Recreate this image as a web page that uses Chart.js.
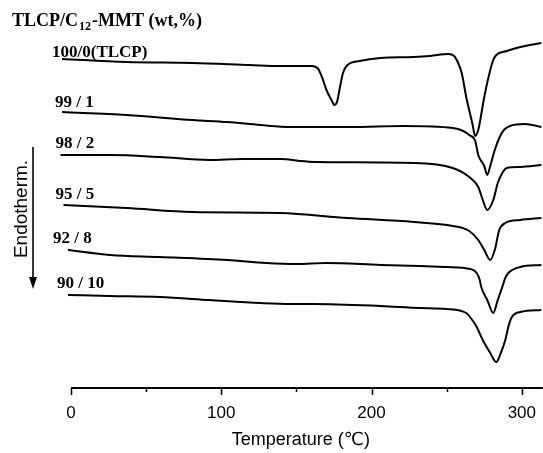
<!DOCTYPE html>
<html>
<head>
<meta charset="utf-8">
<script src="https://cdn.jsdelivr.net/npm/chart.js@4"></script>
<style>
  body { margin: 0; background: #fff; }
  #wrap { width: 543px; height: 453px; }
</style>
</head>
<body>
<div id="wrap"><canvas id="dsc"></canvas></div>
<script>
// DSC heating curves, temperature (°C) vs heat flow (arbitrary units, curves stacked)
const curveLabels = ['100/0(TLCP)', '99 / 1', '98 / 2', '95 / 5', '92 / 8', '90 / 10'];
const tickValues = [0, 50, 100, 150, 200, 250, 300];

const temp100 = [-6, 37, 81, 119, 139, 160, 164, 167, 170, 174, 175, 177, 179, 181, 184, 192, 206, 228, 239, 251, 255, 257, 260, 263, 267, 269, 271, 272, 275, 279, 281, 283, 290, 299, 313];
const heat100 = [329, 326, 325, 323, 322, 322, 320, 311, 298, 286, 283, 286, 301, 315, 323, 327, 330, 331, 332, 334, 332, 327, 315, 291, 265, 252, 258, 265, 291, 318, 328, 333, 337, 341, 345];

const temp99 = [-6, 37, 81, 104, 126, 146, 186, 221, 254, 261, 265, 269, 271, 275, 277, 279, 282, 285, 288, 292, 302, 313];
const heat99 = [276, 273, 268, 266, 263, 261, 261, 262, 260, 257, 253, 247, 233, 222, 213, 222, 238, 250, 258, 262, 264, 261];

const temp98 = [-7, 26, 59, 92, 114, 140, 152, 162, 228, 254, 265, 271, 274, 277, 281, 284, 287, 290, 299, 313];
const heat98 = [233, 233, 231, 228, 229, 229, 227, 226, 225, 220, 211, 201, 188, 178, 188, 205, 215, 220, 221, 223];

const temp95 = [-5, 37, 81, 139, 184, 228, 254, 265, 271, 275, 279, 282, 285, 289, 299, 313];
const heat95 = [183, 180, 176, 175, 170, 166, 162, 157, 148, 138, 128, 138, 158, 165, 168, 170];

const temp92 = [-2, 26, 59, 104, 130, 150, 170, 206, 232, 250, 266, 270, 272, 273, 277, 281, 284, 287, 289, 291, 299, 313];
const heat92 = [138, 133, 131, 128, 125, 124, 125, 123, 122, 121, 119, 115, 108, 101, 88, 75, 88, 101, 110, 115, 121, 123];

const temp90 = [-2, 26, 59, 92, 126, 146, 161, 206, 232, 250, 263, 267, 270, 274, 279, 283, 286, 289, 291, 293, 299, 313];
const heat90 = [93, 92, 91, 88, 85, 84, 84, 82, 80, 79, 75, 68, 61, 48, 35, 26, 35, 48, 61, 70, 76, 78];

const temps = [temp100, temp99, temp98, temp95, temp92, temp90];
const heats = [heat100, heat99, heat98, heat95, heat92, heat90];

const serifBold = "bold 17px 'Liberation Serif', 'Times New Roman', serif";
const sans = "'Liberation Sans', 'DejaVu Sans', Arial, sans-serif";

// label offsets from the first point of each curve (px)
const labelOffsets = [[-10, -2], [-7, -5], [-5, -7], [-8, -6], [-15, -7], [-11, -7]];

const decorations = {
    id: 'decorations',
    afterDraw(chart) {
        const ctx = chart.ctx;
        const xs = chart.scales.x, ys = chart.scales.y;
        const area = chart.chartArea;
        ctx.save();
        ctx.fillStyle = '#000';
        ctx.strokeStyle = '#000';

        // x axis line starting at 0, ticks pointing down
        ctx.lineWidth = 1.8;
        ctx.beginPath();
        ctx.moveTo(xs.getPixelForValue(0), area.bottom);
        ctx.lineTo(area.right, area.bottom);
        ctx.stroke();
        ctx.lineWidth = 1.5;
        tickValues.forEach(v => {
            const px = Math.round(xs.getPixelForValue(v)) + 0.5;
            const len = v % 100 === 0 ? 7 : 4;
            ctx.beginPath();
            ctx.moveTo(px, area.bottom);
            ctx.lineTo(px, area.bottom + len);
            ctx.stroke();
        });

        // curve labels
        ctx.font = serifBold;
        ctx.textBaseline = 'alphabetic';
        curveLabels.forEach((txt, i) => {
            const px = xs.getPixelForValue(temps[i][0]) + labelOffsets[i][0];
            const py = ys.getPixelForValue(heats[i][0]) + labelOffsets[i][1];
            ctx.fillText(txt, px, py);
        });

        // heading with subscript
        let hx = 12;
        const hy = 26;
        ctx.font = "bold 18px 'Liberation Serif', 'Times New Roman', serif";
        ctx.fillText('TLCP/C', hx, hy);
        hx += ctx.measureText('TLCP/C').width + 1;
        ctx.font = "bold 12px 'Liberation Serif', 'Times New Roman', serif";
        ctx.fillText('12', hx, hy + 4);
        hx += ctx.measureText('12').width + 1;
        ctx.font = "bold 18px 'Liberation Serif', 'Times New Roman', serif";
        ctx.fillText('-MMT (wt,%)', hx, hy);

        // Endotherm. with downward arrow
        ctx.save();
        ctx.translate(27, 209);
        ctx.rotate(-Math.PI / 2);
        ctx.font = '19px ' + sans;
        ctx.textAlign = 'center';
        ctx.textBaseline = 'alphabetic';
        ctx.fillText('Endotherm.', 0, 0);
        ctx.restore();

        ctx.lineWidth = 1.6;
        ctx.beginPath();
        ctx.moveTo(33, 147);
        ctx.lineTo(33, 280);
        ctx.stroke();
        ctx.beginPath();
        ctx.moveTo(29, 277);
        ctx.lineTo(37, 277);
        ctx.lineTo(33, 289);
        ctx.closePath();
        ctx.fill();

        ctx.restore();
    }
};

new Chart(document.getElementById('dsc'), {
    type: 'line',
    data: {
        datasets: curveLabels.map((lab, i) => ({
            label: lab,
            data: temps[i].map((t, k) => ({ x: t, y: heats[i][k] })),
            borderColor: '#000',
            borderWidth: 2,
            pointRadius: 0,
            fill: false,
            cubicInterpolationMode: 'monotone'
        }))
    },
    options: {
        responsive: true,
        maintainAspectRatio: false,
        animation: false,
        layout: { autoPadding: false, padding: { left: 59, right: 0, top: 0, bottom: 0 } },
        plugins: { legend: { display: false }, tooltip: { enabled: false } },
        scales: {
            x: {
                type: 'linear',
                min: -8,
                max: 314,
                border: { display: false },
                // tick marks are drawn by the plugin, keep the space for them here
                grid: { drawOnChartArea: false, drawTicks: true, tickLength: 8, color: 'rgba(0,0,0,0)' },
                afterBuildTicks: s => { s.ticks = tickValues.map(v => ({ value: v })); },
                afterFit: s => { s.height = 65; },
                ticks: {
                    color: '#000',
                    padding: 7,
                    maxRotation: 0,
                    autoSkip: false,
                    font: { family: sans, size: 17 },
                    callback: v => (v % 100 === 0 ? String(v) : '')
                },
                title: {
                    display: true,
                    text: 'Temperature (℃)',
                    color: '#000',
                    font: { family: sans, size: 18 },
                    padding: { top: 0, bottom: 2 }
                }
            },
            y: { display: false, min: 0, max: 388 }
        }
    },
    plugins: [decorations]
});
</script>
</body>
</html>
